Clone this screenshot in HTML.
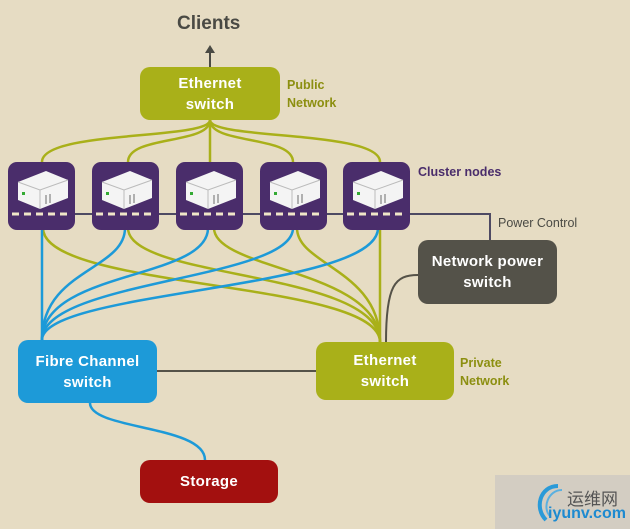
<!DOCTYPE html>
<html><head><style>
body{margin:0;width:630px;height:529px;background:#e6dcc3;overflow:hidden;font-family:"Liberation Sans",sans-serif}
.b{position:absolute;border-radius:10px;color:#fff;font-weight:bold;font-size:15px;text-align:center;line-height:21px;display:flex;align-items:center;justify-content:center;letter-spacing:0.3px}
.l{position:absolute;font-weight:bold;font-size:12.5px;line-height:18px}
</style></head><body>
<svg width="630" height="529" style="position:absolute;left:0;top:0" fill="none">
<g stroke="#a9b019" stroke-width="2.5">
<path d="M210 120 C210 140 42 130 42 162"/>
<path d="M210 120 C210 145 128 135 128 162"/>
<path d="M210 120 L210 162"/>
<path d="M210 120 C210 145 293 135 293 162"/>
<path d="M210 120 C210 140 380 130 380 162"/>
<path d="M43 228 C43 290 380 280 380 342"/>
<path d="M128 228 C128 280 380 270 380 342"/>
<path d="M214 228 C214 270 380 270 380 342"/>
<path d="M297 228 C297 265 380 270 380 342"/>
<path d="M380 228 L380 342"/>
</g>
<g stroke="#1d9ad8" stroke-width="2.5">
<path d="M42 228 L42 340"/>
<path d="M125 228 C125 270 42 270 42 340"/>
<path d="M208 228 C208 280 42 270 42 340"/>
<path d="M293 228 C293 280 42 280 42 340"/>
<path d="M378 228 C378 290 42 290 42 340"/>
<path d="M90 403 C90 430 205 425 205 460"/>
</g>
<path d="M8 214 L490 214 L490 240" stroke="#4e4a63" stroke-width="2"/>
<path d="M418 275 C395 275 386 285 386 342" stroke="#555248" stroke-width="2"/>
<path d="M157 371 L316 371" stroke="#555248" stroke-width="2"/>
<path d="M210 67 L210 52" stroke="#4a4a44" stroke-width="2"/>
<path d="M205 53 L210 45 L215 53 Z" fill="#4a4a44"/>
</svg>
<div class="l" style="left:177px;top:15px;font-size:19px;color:#4a4a44">Clients</div>
<div class="b" style="left:140px;top:67px;width:140px;height:53px;background:#a9b019">Ethernet<br>switch</div>
<div class="l" style="left:287px;top:76px;color:#8c8f10">Public<br>Network</div>
<div class="l" style="left:418px;top:163px;color:#4a2d6b">Cluster nodes</div>
<div class="l" style="left:498px;top:214px;color:#4a4a44;font-weight:normal">Power Control</div>
<div class="b" style="left:418px;top:240px;width:139px;height:64px;background:#545249">Network power<br>switch</div>
<div class="b" style="left:18px;top:340px;width:139px;height:63px;background:#1d9ad8">Fibre Channel<br>switch</div>
<div class="b" style="left:316px;top:342px;width:138px;height:58px;background:#a9b019">Ethernet<br>switch</div>
<div class="l" style="left:460px;top:354px;color:#8c8f10">Private<br>Network</div>
<div class="b" style="left:140px;top:460px;width:138px;height:43px;background:#a3100f">Storage</div>
<div style="position:absolute;left:495px;top:475px;width:135px;height:54px;background:#d3cdc2"></div>
<svg width="60" height="50" style="position:absolute;left:528px;top:478px" fill="none"><path d="M30 8 C12 8 6 30 18 42" stroke="#2a9ad8" stroke-width="4"/><path d="M34 12 C20 12 14 30 22 38" stroke="#5ab0e0" stroke-width="2"/></svg>
<div style="position:absolute;left:567px;top:485px;font:17px 'Noto Sans CJK SC',sans-serif;color:#555">运维网</div>
<div style="position:absolute;left:548px;top:505px;font:bold 16px 'Liberation Sans',sans-serif;color:#1d8ad0">iyunv.com</div>
<svg width="630" height="529" style="position:absolute;left:0;top:0">
<defs>
<g id="n"><rect width="67" height="68" rx="9" fill="#4a2d6b"/><line x1="4" y1="52" x2="63" y2="52" stroke="#f0e6c8" stroke-width="3" stroke-dasharray="7,5"/><path d="M10 20 L38 9 L60 18 L60 36 L32 47 L10 38 Z" fill="#f4f4f4"/><path d="M10 20 L32 28 L60 18" stroke="#bbb" fill="none"/><path d="M32 28 L32 47" stroke="#bbb"/><rect x="14" y="30" width="3" height="3" fill="#3a3"/><path d="M38 33 L38 42 M42 32 L42 41" stroke="#999" stroke-width="1.5"/></g>
</defs>
<use href="#n" x="8" y="162"/>
<use href="#n" x="92" y="162"/>
<use href="#n" x="176" y="162"/>
<use href="#n" x="260" y="162"/>
<use href="#n" x="343" y="162"/>
</svg>
</body></html>
